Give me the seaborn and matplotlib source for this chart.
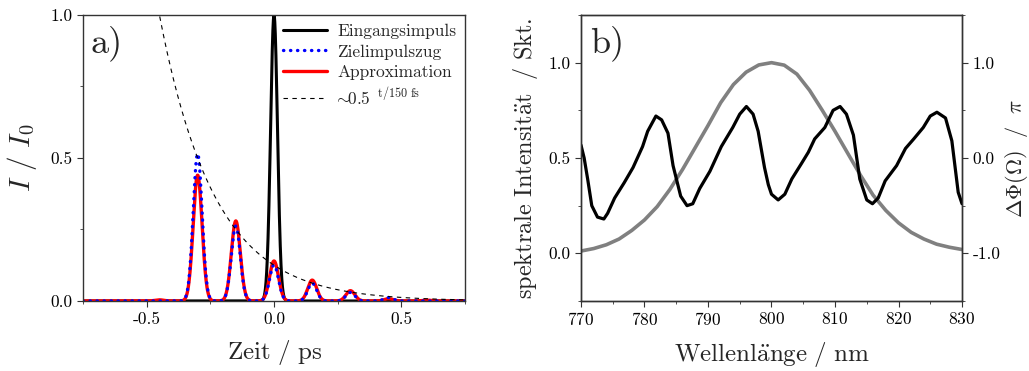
import numpy as np
import pandas as pd
import matplotlib
matplotlib.use("Agg")
import matplotlib.pyplot as plt
import seaborn as sns
from matplotlib.ticker import MultipleLocator, FormatStrFormatter
from matplotlib.lines import Line2D

# ---------------- data: panel a) ----------------
input_pulse_times = [0.0]
input_pulse_heights = [1.0]
input_pulse_sigma = 0.0135  # ps

train_times = [-0.45, -0.30, -0.15, 0.0, 0.15, 0.30, 0.45, 0.60]
target_heights = [0.0, 0.515, 0.262, 0.126, 0.062, 0.030, 0.012, 0.0]
approx_heights = [0.004, 0.44, 0.28, 0.14, 0.073, 0.036, 0.008, 0.003]
train_sigma = 0.0175  # ps

decay_amp = 0.125
decay_halflife = 0.150  # ps

# ---------------- data: panel b) ----------------
spec_wl = [770, 772, 774, 776, 778, 780, 782, 784, 786, 788, 790, 792, 794, 796, 798,
           800, 802, 804, 806, 808, 810, 812, 814, 816, 818, 820, 822, 824, 826, 828, 830]
spec_int = [0.012, 0.025, 0.045, 0.075, 0.12, 0.175, 0.245, 0.335, 0.44, 0.555, 0.67,
            0.79, 0.885, 0.95, 0.988, 1.0, 0.987, 0.94, 0.855, 0.75, 0.64, 0.525, 0.41,
            0.305, 0.225, 0.16, 0.11, 0.075, 0.048, 0.032, 0.02]

phase_wl = [770.0, 770.5, 771.05, 771.7, 772.6, 773.6, 774.2, 775.3, 776.8, 778.2, 779.7,
            780.5, 781.8, 782.7, 783.7, 784.5, 785.7, 786.7, 787.6, 788.7, 790.3, 792.1,
            793.9, 795.0, 796.05, 797.1, 797.9, 798.9, 799.5, 800.0, 801.05, 802.1, 803.2,
            804.7, 805.8, 806.8, 808.4, 809.7, 810.8, 811.8, 812.9, 813.9, 815.0, 815.9,
            816.8, 817.9, 819.7, 821.1, 822.4, 823.9, 825.0, 826.05, 827.4, 828.4, 829.4, 830.0]
phase_pi = [0.136, 0.0, -0.22, -0.50, -0.62, -0.64, -0.58, -0.42, -0.26, -0.10, 0.12,
            0.28, 0.44, 0.40, 0.26, -0.08, -0.40, -0.50, -0.48, -0.32, -0.14, 0.12,
            0.32, 0.46, 0.54, 0.46, 0.28, -0.10, -0.28, -0.38, -0.44, -0.38, -0.22,
            -0.06, 0.06, 0.20, 0.32, 0.50, 0.54, 0.46, 0.24, -0.22, -0.44, -0.48,
            -0.42, -0.24, -0.08, 0.10, 0.20, 0.32, 0.44, 0.48, 0.42, 0.18, -0.36, -0.48]

# ---------------- build curves ----------------
t = np.linspace(-0.75, 0.75, 3001)

def pulses(times, heights, sigma):
    y = np.zeros_like(t)
    for t0, h in zip(times, heights):
        y += h * np.exp(-(t - t0) ** 2 / (2 * sigma ** 2))
    return y

df_in = pd.DataFrame({"t": t, "I": pulses(input_pulse_times, input_pulse_heights, input_pulse_sigma)})
df_target = pd.DataFrame({"t": t, "I": pulses(train_times, target_heights, train_sigma)})
df_approx = pd.DataFrame({"t": t, "I": pulses(train_times, approx_heights, train_sigma)})
df_decay = pd.DataFrame({"t": t, "I": decay_amp * 0.5 ** (t / decay_halflife)})
df_spec = pd.DataFrame({"wl": spec_wl, "S": spec_int})
df_phase = pd.DataFrame({"wl": phase_wl, "P": phase_pi})

# ---------------- style ----------------
sns.set_style("ticks")
plt.rcParams["font.family"] = ["cmr10", "DejaVu Serif"]
plt.rcParams["mathtext.fontset"] = "cm"
plt.rcParams["axes.unicode_minus"] = False
plt.rcParams["axes.formatter.use_mathtext"] = True
plt.rcParams["axes.edgecolor"] = "#333333"
plt.rcParams["axes.linewidth"] = 1.0
plt.rcParams["xtick.color"] = "#333333"
plt.rcParams["ytick.color"] = "#333333"
plt.rcParams["xtick.labelcolor"] = "black"
plt.rcParams["ytick.labelcolor"] = "black"

TICK_FS = 12.5
DOTS = (0, (0.1, 2.0))

fig = plt.figure(figsize=(10.29, 3.71), dpi=100)
axa = fig.add_axes([0.0807, 0.1887, 0.3712, 0.7709])
axb = fig.add_axes([0.5646, 0.1887, 0.3703, 0.7709])

# ---------------- panel a ----------------
sns.lineplot(data=df_in, x="t", y="I", ax=axa, color="black", lw=2.2, estimator=None, sort=False)
sns.lineplot(data=df_approx, x="t", y="I", ax=axa, color="red", lw=2.4, estimator=None, sort=False)
sns.lineplot(data=df_target, x="t", y="I", ax=axa, color="blue", lw=2.4, estimator=None, sort=False,
             linestyle=DOTS, dash_capstyle="round")
sns.lineplot(data=df_decay, x="t", y="I", ax=axa, color="black", lw=0.8, estimator=None, sort=False,
             linestyle=(0, (4, 4)))

axa.set_xlim(-0.75, 0.75)
axa.set_ylim(0, 1.0)
axa.xaxis.set_major_locator(MultipleLocator(0.5))
axa.xaxis.set_minor_locator(MultipleLocator(0.25))
axa.yaxis.set_major_locator(MultipleLocator(0.5))
axa.yaxis.set_minor_locator(MultipleLocator(0.25))
axa.xaxis.set_major_formatter(FormatStrFormatter("%.1f"))
axa.yaxis.set_major_formatter(FormatStrFormatter("%.1f"))
axa.tick_params(which="major", length=4, labelsize=TICK_FS)
axa.tick_params(which="minor", length=2.5)
axa.set_xlabel(r"$\mathrm{Zeit\ /\ ps}$", fontsize=18, labelpad=8)
axa.set_ylabel(r"$I\ /\ I_0$", fontsize=21, labelpad=8)
axa.text(0.02, 0.965, "a)", transform=axa.transAxes, fontsize=26, va="top", ha="left")

handles = [
    Line2D([], [], color="black", lw=2.2),
    Line2D([], [], color="blue", lw=2.4, linestyle=DOTS, dash_capstyle="round"),
    Line2D([], [], color="red", lw=2.4),
    Line2D([], [], color="black", lw=0.8, linestyle=(0, (4, 4))),
]
labels = ["Eingangsimpuls", "Zielimpulszug", "Approximation",
          r"$\!\!\sim\!\!$0.5$^{\ \ \mathrm{t/150\ fs}}$"]
axa.legend(handles, labels, loc="upper right", frameon=False, fontsize=12.5,
           handlelength=2.5, labelspacing=0.3, borderaxespad=0.1, handletextpad=0.6)

# ---------------- panel b ----------------
sns.lineplot(data=df_spec, x="wl", y="S", ax=axb, color="#808080", lw=2.6, estimator=None, sort=False)
axb.set_xlim(770, 830)
axb.set_ylim(-0.25, 1.25)
axb.xaxis.set_major_locator(MultipleLocator(10))
axb.xaxis.set_minor_locator(MultipleLocator(5))
axb.yaxis.set_major_locator(MultipleLocator(0.5))
axb.yaxis.set_minor_locator(MultipleLocator(0.25))
axb.yaxis.set_major_formatter(FormatStrFormatter("%.1f"))
axb.tick_params(which="major", length=4, labelsize=TICK_FS)
axb.tick_params(which="minor", length=2.5)
axb.set_xlabel(r"$\mathrm{Wellenl\ddot{a}nge\ /\ nm}$", fontsize=18, labelpad=8)
axb.set_ylabel(r"$\mathrm{spektrale\ Intensit\ddot{a}t\ \ /\ Skt.}$", fontsize=17.5, labelpad=6)
axb.text(0.025, 0.965, "b)", transform=axb.transAxes, fontsize=26, va="top", ha="left")

axp = axb.twinx()
sns.lineplot(data=df_phase, x="wl", y="P", ax=axp, color="black", lw=2.3, estimator=None, sort=False)
axp.set_ylim(-1.5, 1.5)
axp.set_xlim(770, 830)
axp.yaxis.set_major_locator(MultipleLocator(1.0))
axp.yaxis.set_minor_locator(MultipleLocator(0.5))
axp.yaxis.set_major_formatter(FormatStrFormatter("%.1f"))
axp.tick_params(which="major", length=4, labelsize=TICK_FS)
axp.tick_params(which="minor", length=2.5)
axp.set_ylabel(r"$\Delta\Phi(\Omega)\ \ /\ \ \pi$", fontsize=16, labelpad=2)

for ax in (axa, axb, axp):
    for s in ax.spines.values():
        s.set_visible(True)
        s.set_color("#333333")

fig.savefig("out.png", dpi=100)
